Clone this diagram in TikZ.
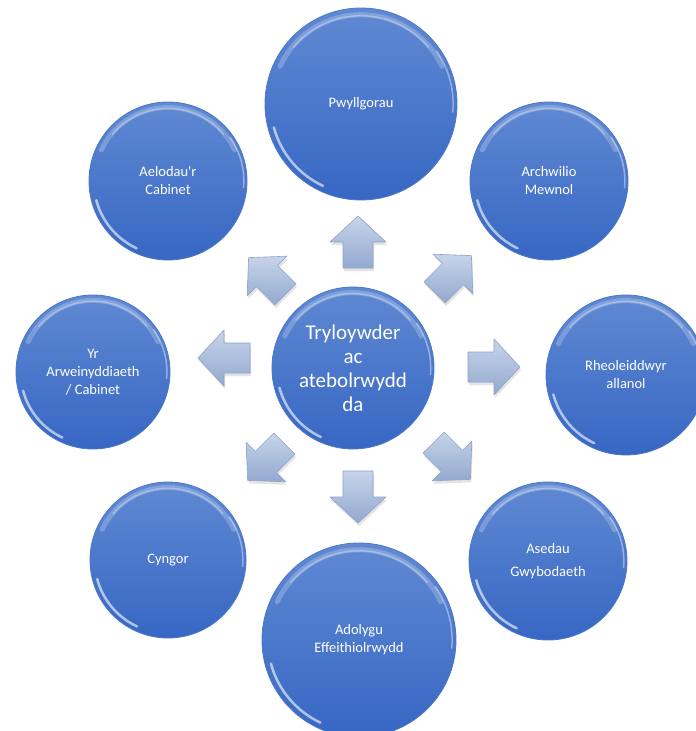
\documentclass[tikz,border=0pt]{standalone}
\usepackage{fontspec}
\setmainfont{Carlito}
\usetikzlibrary{shadows}
\definecolor{balltop}{HTML}{6089D2}
\definecolor{ballbot}{HTML}{3767C4}
\definecolor{ballrim}{HTML}{4A77CB}
\definecolor{arrtop}{HTML}{C7D4EB}
\definecolor{arrbot}{HTML}{93A9CF}
\definecolor{arredge}{HTML}{8FA4C9}
\tikzset{
  ball/.style={circle, minimum size=#1, inner sep=0pt, top color=balltop, bottom color=ballbot,
    draw=ballrim, line width=0.8pt, text=white, align=center,
    font=\fontsize{14.5}{18}\selectfont},
  hub/.style={ball=#1, font=\fontsize{21}{24}\selectfont},
  blockarrow/.style={top color=arrtop, bottom color=arrbot, draw=arredge, line width=0.6pt,
    line join=round, drop shadow={opacity=0.22, shadow xshift=1pt, shadow yshift=-3pt}},
  shine/.style={white, line cap=round}
}
\newcommand\glint[2]{%
  \draw[shine, opacity=0.22, line width=5pt] ([shift={(155:{#2*0.93 pt})}]#1.center)
    arc[start angle=155, end angle=25, radius={#2*0.93 pt}];
  \draw[shine, opacity=0.3, line width=1.5pt] ([shift={(140:{#2*0.92 pt})}]#1.center)
    arc[start angle=140, end angle=40, radius={#2*0.92 pt}];
  \draw[shine, opacity=0.6, line width=2.5pt] ([shift={(195:{#2*0.94 pt})}]#1.center)
    arc[start angle=195, end angle=245, radius={#2*0.94 pt}];
  \draw[shine, opacity=0.4, line width=1.5pt] ([shift={(-5:{#2*0.96 pt})}]#1.center)
    arc[start angle=-5, end angle=35, radius={#2*0.96 pt}];
}
\newcommand\blockarr[3]{%
  \begin{scope}[shift={(#1,#2)}, rotate=#3]
    \path[blockarrow] (-26,-15) -- (0,-15) -- (0,-28) -- (26,0) -- (0,28) -- (0,15) -- (-26,15) -- cycle;
  \end{scope}
}
\begin{document}
\begin{tikzpicture}[x=1pt, y=-1pt]
  \fill[white] (0,0) rectangle (696,731);
  \useasboundingbox (0,0) rectangle (696,731);

  % block arrows around the hub
  \blockarr{358}{242}{90}
  \blockarr{453}{274}{45}
  \blockarr{494}{367}{0}
  \blockarr{452}{461}{-45}
  \blockarr{358}{497}{-90}
  \blockarr{266}{462}{-135}
  \blockarr{224}{358}{180}
  \blockarr{267}{276}{135}

  % hub
  \node[hub=162pt] (core) at (353,368) {Tryloywder\\ac\\atebolrwydd\\da};
  \glint{core}{81}

  % outer circles
  \node[ball=192pt] (pw) at (361,104) {Pwyllgorau};
  \glint{pw}{96}
  \node[ball=158pt] (ae) at (168,181) {Aelodau\textquotesingle r\\Cabinet};
  \glint{ae}{79}
  \node[ball=158pt] (ar) at (549,181) {Archwilio\\Mewnol};
  \glint{ar}{79}
  \node[ball=154pt] (yr) at (93,372) {Yr\\Arweinyddiaeth\\/ Cabinet};
  \glint{yr}{77}
  \node[ball=160pt] (rh) at (626,375) {Rheoleiddwyr\\allanol};
  \glint{rh}{80}
  \node[ball=156pt] (cy) at (168,560) {Cyngor};
  \glint{cy}{78}
  \node[ball=158pt, font=\fontsize{14.5}{23}\selectfont] (as) at (548,561) {Asedau\\Gwybodaeth};
  \glint{as}{79}
  \node[ball=194pt] (ad) at (359,640) {Adolygu\\Effeithiolrwydd};
  \glint{ad}{97}
\end{tikzpicture}
\end{document}
